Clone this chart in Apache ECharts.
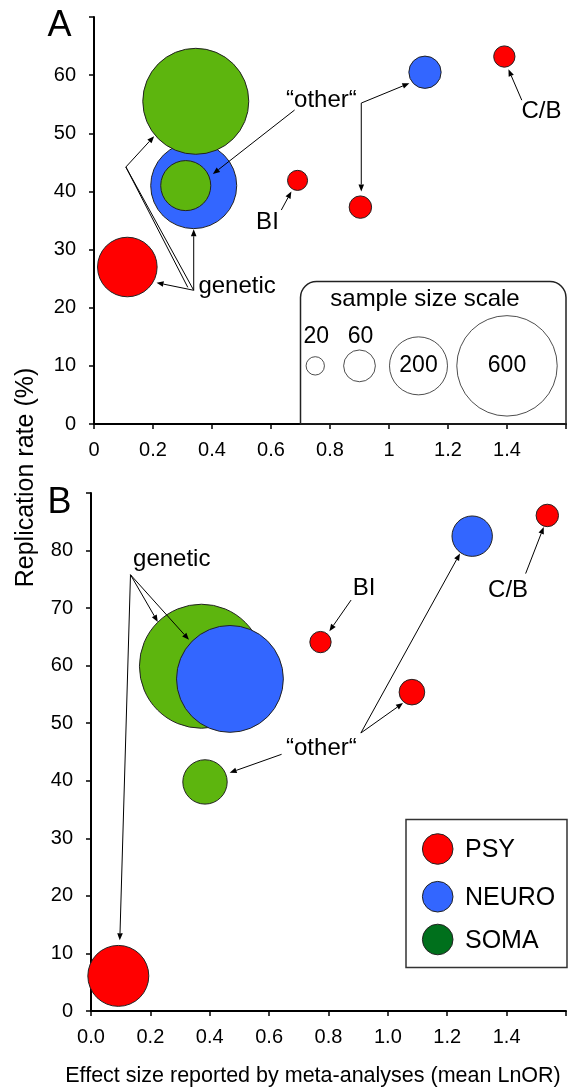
<!DOCTYPE html>
<html><head><meta charset="utf-8">
<script src="https://cdn.jsdelivr.net/npm/echarts@6/dist/echarts.min.js"></script>
<style>html,body{margin:0;padding:0;background:#fff}#c{width:569px;height:1088px}</style>
</head><body><div id="c"></div>
<script>
const FONT = '"Liberation Sans", Arial, sans-serif';

// ---- categories / colours ----
const legendCats = ['PSY', 'NEURO', 'SOMA'];
const legendColors = ['#FF0000', '#3366FF', '#00701C'];
const groupColors = { PSY: '#FF0000', NEURO: '#3366FF', SOMA: '#5DB50E' };

// ---- Panel A (draw order) ----
const groupA  = ['PSY', 'PSY', 'PSY', 'PSY', 'NEURO', 'NEURO', 'SOMA', 'SOMA'];
const effectA = [0.113, 0.69, 0.903, 1.391, 0.338, 1.122, 0.345, 0.311];
const replA   = [27.0, 41.9, 37.3, 63.2, 41.0, 60.5, 55.5, 41.0];
const sizeA   = [211, 24, 30, 27, 440, 62, 668, 149];

// ---- Panel B (draw order) ----
const groupB  = ['PSY', 'PSY', 'PSY', 'PSY', 'SOMA', 'SOMA', 'NEURO', 'NEURO'];
const effectB = [0.092, 0.773, 1.081, 1.537, 0.372, 0.384, 0.468, 1.284];
const replB   = [6.1, 64.1, 55.4, 86.1, 59.9, 39.8, 57.7, 82.5];
const sizeB   = [221, 27, 39, 30, 915, 117, 679, 97];

// ---- sample size scale ----
const scaleSizes = [20, 60, 200, 600];
const scaleX = [0.75, 0.9, 1.1, 1.4];
const scaleY = [10, 10, 10, 10];

// ---- tick labels ----
const xTickLabelsA = ['0', '0.2', '0.4', '0.6', '0.8', '1', '1.2', '1.4', ''];
const yTickLabelsA = ['0', '10', '20', '30', '40', '50', '60', ''];
const xTickLabelsB = ['0.0', '0.2', '0.4', '0.6', '0.8', '1.0', '1.2', '1.4', ''];
const yTickLabelsB = ['0', '10', '20', '30', '40', '50', '60', '70', '80', ''];

// ---- annotations (data coordinates) ----
const annotTextA = [
  { t: '\u201Cother\u201C', p: [0.771, 55.6] },
  { t: 'C/B', p: [1.517, 53.7] },
  { t: 'BI', p: [0.588, 34.6] },
  { t: 'genetic', p: [0.485, 23.6] }
];
const annotArrowA = [
  [[0.680, 54.0], [0.403, 43.0]],
  [[0.906, 55.2], [1.069, 58.6]],
  [[0.906, 55.2], [0.906, 40.0]],
  [[1.450, 55.7], [1.405, 61.0]],
  [[0.635, 36.8], [0.669, 40.0]],
  [[0.338, 23.0], [0.212, 24.3]],
  [[0.338, 23.0], [0.338, 33.5]],
  [[0.338, 23.0], [0.108, 44.2], [0.204, 49.5]]
];
const annotLineA = [
  [[0.108, 44.2], [0.318, 23.5]]
];
const annotTextB = [
  { t: 'genetic', p: [0.272, 78.4] },
  { t: '\u201Cother\u201C', p: [0.776, 45.7] },
  { t: 'BI', p: [0.920, 73.4] },
  { t: 'C/B', p: [1.405, 73.1] }
];
const annotArrowB = [
  [[0.133, 75.8], [0.225, 67.6]],
  [[0.133, 75.8], [0.330, 64.5]],
  [[0.133, 75.8], [0.097, 12.3]],
  [[0.909, 48.3], [1.243, 79.5]],
  [[0.909, 48.3], [1.051, 53.5]],
  [[0.642, 44.6], [0.467, 41.4]],
  [[0.876, 71.4], [0.803, 66.0]],
  [[1.464, 76.0], [1.525, 84.1]]
];

const PX_PER_SQRT = 2.05;
function diam(n) { return 2 * PX_PER_SQRT * Math.sqrt(n); }

function xAxisCfg(gi, labels) {
  return {
    type: 'value', gridIndex: gi, min: 0, max: 1.6, interval: 0.2,
    axisLine: { show: true, onZero: false, lineStyle: { color: '#000', width: 2 } },
    axisTick: { show: true, length: 5, lineStyle: { color: '#000', width: 1.5 } },
    splitLine: { show: false },
    axisLabel: { fontSize: 20, color: '#000', fontFamily: FONT, margin: 16,
      formatter: v => { const s = labels[Math.round(v / 0.2)]; return s == null ? '' : s; } }
  };
}
function yAxisCfg(gi, max, labels) {
  return {
    type: 'value', gridIndex: gi, min: 0, max: max, interval: 10,
    axisLine: { show: true, onZero: false, lineStyle: { color: '#000', width: 2 } },
    axisTick: { show: true, length: 5, lineStyle: { color: '#000', width: 1.5 } },
    splitLine: { show: false },
    axisLabel: { fontSize: 20, color: '#000', fontFamily: FONT, margin: 18,
      formatter: v => { const s = labels[Math.round(v / 10)]; return s == null ? '' : s; } }
  };
}
function bubbles(gi, groups, xs, ys, ns) {
  return {
    type: 'scatter', xAxisIndex: gi, yAxisIndex: gi, clip: false, silent: true,
    data: xs.map((x, i) => ({ value: [x, ys[i], ns[i]], itemStyle: { color: groupColors[groups[i]] } })),
    symbolSize: v => diam(v[2]),
    itemStyle: { borderColor: '#222', borderWidth: 1, opacity: 1 },
    emphasis: { disabled: true }
  };
}

const chart = echarts.init(document.getElementById('c'), null, { renderer: 'canvas' });
chart.setOption({
  animation: false,
  backgroundColor: '#fff',
  textStyle: { fontFamily: FONT },
  grid: [
    { left: 94, top: 17, width: 473, height: 407 },
    { left: 91, top: 493, width: 476, height: 518 }
  ],
  xAxis: [xAxisCfg(0, xTickLabelsA), xAxisCfg(1, xTickLabelsB)],
  yAxis: [yAxisCfg(0, 70, yTickLabelsA), yAxisCfg(1, 90, yTickLabelsB)],
  series: [
    {
      type: 'scatter', xAxisIndex: 0, yAxisIndex: 0, clip: false, silent: true,
      data: scaleSizes.map((n, i) => ({
        value: [scaleX[i], scaleY[i], n],
        label: { offset: n < 100 ? [1, -29] : [0, 0] }
      })),
      symbolSize: v => diam(v[2]),
      itemStyle: { color: '#fff', borderColor: '#222', borderWidth: 1 },
      label: { show: true, position: 'inside', formatter: p => String(p.value[2]),
        fontSize: 23, color: '#000', opacity: 1, textBorderWidth: 0, textBorderColor: 'transparent',
        fontFamily: FONT },
      emphasis: { disabled: true }
    },
    bubbles(0, groupA, effectA, replA, sizeA),
    bubbles(1, groupB, effectB, replB, sizeB)
  ]
});

function px(gi, p) { return chart.convertToPixel({ xAxisIndex: gi, yAxisIndex: gi }, p); }
function textEl(x, y, t, size, extra) {
  return Object.assign({
    type: 'text', x: x, y: y, z: 100,
    style: { text: t, font: size + 'px ' + FONT, fill: '#000',
      align: 'center', verticalAlign: 'middle', textAlign: 'center', textVerticalAlign: 'middle' }
  }, extra || {});
}
function arrowEls(pts) {
  const els = [];
  const a = pts[pts.length - 2], b = pts[pts.length - 1];
  const ang = Math.atan2(b[1] - a[1], b[0] - a[0]);
  const L = 7, W = 2.8;
  const bx = b[0] - L * Math.cos(ang), by = b[1] - L * Math.sin(ang);
  const nx = -Math.sin(ang), ny = Math.cos(ang);
  const linePts = pts.slice(0, -1).concat([[bx, by]]);
  els.push({ type: 'polyline', z: 100, shape: { points: linePts }, style: { stroke: '#000', lineWidth: 1, fill: 'none' } });
  els.push({ type: 'polygon', z: 100, shape: { points: [b, [bx + W * nx, by + W * ny], [bx - W * nx, by - W * ny]] }, style: { fill: '#000' } });
  return els;
}

const g = [];
// panel letters
g.push(textEl(59.5, 26, 'A', 36));
g.push(textEl(59.5, 503, 'B', 36));
// axis titles
g.push(textEl(26, 477.5, 'Replication rate (%)', 25, { rotation: Math.PI / 2 }));
g.push(textEl(313, 1076, 'Effect size reported by meta-analyses (mean LnOR)', 21.5));

// sample-size scale box (panel A)
const b1 = px(0, [0.7, 24.5]), b2 = px(0, [1.6, 0]);
g.push({ type: 'rect', z: 90, shape: { x: b1[0], y: b1[1], width: b2[0] - b1[0], height: b2[1] - b1[1], r: [16, 16, 0, 0] },
  style: { fill: 'none', stroke: '#222', lineWidth: 1.5 } });
const tt = px(0, [1.122, 21.5]);
g.push(textEl(tt[0], tt[1], 'sample size scale', 24));

// annotations
annotTextA.forEach(a => { const p = px(0, a.p); g.push(textEl(p[0], p[1], a.t, 24)); });
annotArrowA.forEach(a => arrowEls(a.map(q => px(0, q))).forEach(e => g.push(e)));
annotLineA.forEach(a => g.push({ type: 'polyline', z: 100, shape: { points: a.map(q => px(0, q)) }, style: { stroke: '#000', lineWidth: 1, fill: 'none' } }));
annotTextB.forEach(a => { const p = px(1, a.p); g.push(textEl(p[0], p[1], a.t, 24)); });
annotArrowB.forEach(a => arrowEls(a.map(q => px(1, q))).forEach(e => g.push(e)));

// legend box (panel B)
g.push({ type: 'rect', z: 90, shape: { x: 406, y: 819.5, width: 161, height: 148 },
  style: { fill: '#fff', stroke: '#333', lineWidth: 1.5 } });
const legY = [849, 896.7, 939.5];
legendCats.forEach((c, i) => {
  g.push({ type: 'circle', z: 95, shape: { cx: 437.7, cy: legY[i], r: 15.3 },
    style: { fill: legendColors[i], stroke: '#222', lineWidth: 1 } });
  g.push(textEl(465, legY[i] + 1.5, c, 25, { style: { text: c, font: '25px ' + FONT, fill: '#000',
    align: 'left', verticalAlign: 'middle', textAlign: 'left', textVerticalAlign: 'middle' } }));
});

chart.setOption({ graphic: { elements: g } });
</script>
</body></html>
